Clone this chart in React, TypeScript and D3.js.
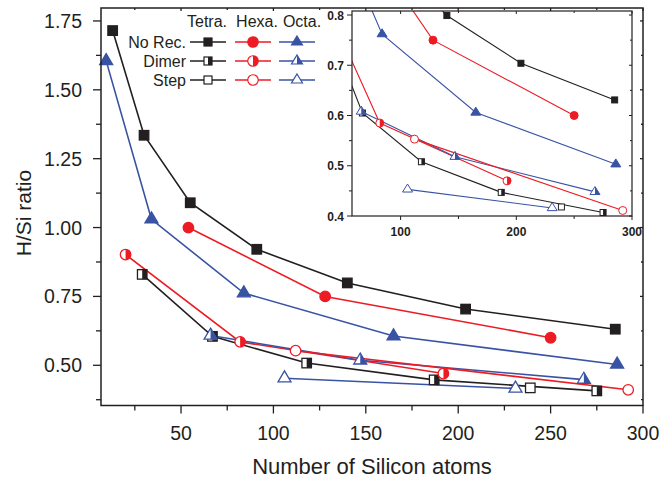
import React, { useEffect, useRef } from 'react';
import * as d3 from 'd3';

// [number of Si atoms, H/Si ratio]
const tetraNoRec = [[13, 1.715], [30, 1.335], [55, 1.09], [91, 0.921], [140, 0.799], [204, 0.704], [285, 0.631]];
const hexaNoRec = [[54, 1.0], [128, 0.75], [250, 0.6]];
const octaNoRec = [[9.5, 1.605], [34, 1.03], [84, 0.762], [165, 0.606], [286, 0.503]];
const tetraDimer = [[29, 0.83], [67, 0.605], [118, 0.508], [187, 0.447], [275, 0.407]];
const hexaDimer = [[20, 0.902], [82, 0.585], [192, 0.47]];
const octaDimer = [[66, 0.608], [147, 0.518], [268, 0.448]];
const tetraStep = [[239, 0.418]];
const hexaStep = [[112, 0.553], [292, 0.411]];
const octaStep = [[106, 0.453], [231, 0.416]];

const structures = ['Tetra.', 'Hexa.', 'Octa.'];
const terminations = ['No Rec.', 'Dimer', 'Step'];

const xMajor = [50, 100, 150, 200, 250, 300];
const xMinor = [25, 75, 125, 175, 225, 275];
const yMajor = [0.5, 0.75, 1.0, 1.25, 1.5, 1.75];
const yMinor = [0.375, 0.625, 0.875, 1.125, 1.375, 1.625];
const insetXMajor = [100, 200, 300];
const insetXMinor = [150, 250];
const insetYMajor = [0.4, 0.5, 0.6, 0.7, 0.8];
const insetYMinor = [0.45, 0.55, 0.65, 0.75];

const BLACK = '#231f20';
const RED = '#ed1c24';
const BLUE = '#3953a4';
const FONT = '"Liberation Sans", Arial, Helvetica, sans-serif';

const colors = [BLACK, RED, BLUE];
const shapes = ['square', 'circle', 'triangle'];
const fills = ['full', 'half', 'open'];

const series = [
  { data: tetraNoRec, s: 0, t: 0 },
  { data: hexaNoRec, s: 1, t: 0 },
  { data: octaNoRec, s: 2, t: 0 },
  { data: tetraDimer, s: 0, t: 1 },
  { data: hexaDimer, s: 1, t: 1 },
  { data: octaDimer, s: 2, t: 1 },
  { data: tetraStep, s: 0, t: 2 },
  { data: hexaStep, s: 1, t: 2 },
  { data: octaStep, s: 2, t: 2 },
];

// size: [square side, circle diameter, triangle width, triangle height]
function marker(g, shape, fill, x, y, size, color, sw) {
  const m = g.append('g').attr('transform', `translate(${x},${y})`);
  const bg = fill === 'full' ? color : 'white';
  if (shape === 'square') {
    const s = size[0];
    m.append('rect').attr('x', -s / 2).attr('y', -s / 2).attr('width', s).attr('height', s)
      .attr('fill', bg).attr('stroke', color).attr('stroke-width', sw);
    if (fill === 'half') {
      m.append('rect').attr('x', 0).attr('y', -s / 2).attr('width', s / 2).attr('height', s).attr('fill', color);
    }
  } else if (shape === 'circle') {
    const r = size[1] / 2;
    m.append('circle').attr('r', r).attr('fill', bg).attr('stroke', color).attr('stroke-width', sw);
    if (fill === 'half') {
      m.append('path').attr('d', `M0,${-r}A${r},${r} 0 0 1 0,${r}Z`).attr('fill', color);
    }
  } else {
    const w = size[2], h = size[3];
    m.append('polygon').attr('points', `0,${-2 * h / 3} ${w / 2},${h / 3} ${-w / 2},${h / 3}`)
      .attr('fill', bg).attr('stroke', color).attr('stroke-width', sw).attr('stroke-linejoin', 'miter');
    if (fill === 'half') {
      m.append('polygon').attr('points', `0,${-2 * h / 3} ${w / 2},${h / 3} 0,${h / 3}`).attr('fill', color);
    }
  }
}

const App = () => {
  const ref = useRef(null);

  useEffect(() => {
    const svg = d3.select(ref.current);
    svg.selectAll('*').remove();

    // main panel
    const x = d3.scaleLinear().domain([6.7, 300]).range([101, 643]);
    const y = d3.scaleLinear().domain([0.354, 1.797]).range([405.5, 8]);
    const [x0, x1] = x.range();
    const [y0, y1] = y.range();

    const axes = svg.append('g').attr('stroke', BLACK).attr('stroke-width', 1.3);
    // outward ticks bottom / left, small inward ticks top / right
    xMajor.forEach(v => {
      axes.append('line').attr('x1', x(v)).attr('x2', x(v)).attr('y1', y0).attr('y2', y0 + 8);
      axes.append('line').attr('x1', x(v)).attr('x2', x(v)).attr('y1', y1).attr('y2', y1 + 3);
    });
    xMinor.forEach(v => {
      axes.append('line').attr('x1', x(v)).attr('x2', x(v)).attr('y1', y0).attr('y2', y0 + 5);
      axes.append('line').attr('x1', x(v)).attr('x2', x(v)).attr('y1', y1).attr('y2', y1 + 2);
    });
    yMajor.forEach(v => {
      axes.append('line').attr('x1', x0 - 8).attr('x2', x0).attr('y1', y(v)).attr('y2', y(v));
      axes.append('line').attr('x1', x1 - 3).attr('x2', x1).attr('y1', y(v)).attr('y2', y(v));
    });
    yMinor.forEach(v => {
      axes.append('line').attr('x1', x0 - 5).attr('x2', x0).attr('y1', y(v)).attr('y2', y(v));
      axes.append('line').attr('x1', x1 - 2).attr('x2', x1).attr('y1', y(v)).attr('y2', y(v));
    });

    svg.selectAll('.xl').data(xMajor).enter().append('text')
      .attr('x', d => x(d)).attr('y', 440).attr('text-anchor', 'middle')
      .attr('font-family', FONT).attr('font-size', 19.5).attr('fill', BLACK)
      .text(d => d);
    svg.selectAll('.yl').data(yMajor).enter().append('text')
      .attr('x', 82).attr('y', d => y(d) + 7).attr('text-anchor', 'end')
      .attr('font-family', FONT).attr('font-size', 19.5).attr('fill', BLACK)
      .text(d => d3.format('.2f')(d));

    svg.append('text').attr('x', 372).attr('y', 474).attr('text-anchor', 'middle')
      .attr('font-family', FONT).attr('font-size', 22).attr('fill', BLACK)
      .text('Number of Silicon atoms');
    svg.append('text').attr('transform', 'translate(31,213) rotate(-90)').attr('text-anchor', 'middle')
      .attr('font-family', FONT).attr('font-size', 21).attr('fill', BLACK)
      .text('H/Si ratio');

    const line = d3.line().x(d => x(d[0])).y(d => y(d[1]));
    const plot = svg.append('g');
    series.forEach(sr => {
      plot.append('path').attr('d', line(sr.data)).attr('fill', 'none')
        .attr('stroke', colors[sr.s]).attr('stroke-width', 1.6);
    });
    series.forEach(sr => {
      sr.data.forEach(d => marker(plot, shapes[sr.s], fills[sr.t], x(d[0]), y(d[1]), [9.5, 10.5, 13, 11], colors[sr.s], 1.3));
    });

    svg.append('rect').attr('x', x0).attr('y', y1).attr('width', x1 - x0).attr('height', y0 - y1)
      .attr('fill', 'none').attr('stroke', BLACK).attr('stroke-width', 1.5);

    // legend
    const colX = [208, 253, 297];
    const headX = [207, 257, 302];
    structures.forEach((s, i) => {
      svg.append('text').attr('x', headX[i]).attr('y', 27).attr('text-anchor', 'middle')
        .attr('font-family', FONT).attr('font-size', 16).attr('fill', BLACK).text(s);
    });
    terminations.forEach((t, j) => {
      const ly = 42 + j * 19;
      svg.append('text').attr('x', 186).attr('y', ly + 6).attr('text-anchor', 'end')
        .attr('font-family', FONT).attr('font-size', 16).attr('fill', BLACK).text(t);
      colX.forEach((cx, i) => {
        svg.append('line').attr('x1', cx - 18).attr('x2', cx + 18).attr('y1', ly).attr('y2', ly)
          .attr('stroke', colors[i]).attr('stroke-width', 1.5);
        marker(svg, shapes[i], fills[j], cx, ly, [8, 10.5, 11, 9], colors[i], 1.2);
      });
    });

    // inset
    const ix = d3.scaleLinear().domain([58, 300]).range([352, 632]);
    const iy = d3.scaleLinear().domain([0.4, 0.808]).range([216, 11]);
    const [ix0, ix1] = ix.range();
    const [iy0, iy1] = iy.range();
    const inset = svg.append('g');
    inset.append('rect').attr('x', ix0).attr('y', iy1).attr('width', ix1 - ix0).attr('height', iy0 - iy1)
      .attr('fill', 'white');
    svg.append('clipPath').attr('id', 'insetClip').append('rect')
      .attr('x', ix0).attr('y', iy1).attr('width', ix1 - ix0).attr('height', iy0 - iy1);

    const ia = inset.append('g').attr('stroke', BLACK).attr('stroke-width', 1);
    insetXMajor.forEach(v => {
      ia.append('line').attr('x1', ix(v)).attr('x2', ix(v)).attr('y1', iy0).attr('y2', iy0 + 4);
      ia.append('line').attr('x1', ix(v)).attr('x2', ix(v)).attr('y1', iy1).attr('y2', iy1 + 3);
    });
    insetXMinor.forEach(v => {
      ia.append('line').attr('x1', ix(v)).attr('x2', ix(v)).attr('y1', iy0).attr('y2', iy0 + 3);
      ia.append('line').attr('x1', ix(v)).attr('x2', ix(v)).attr('y1', iy1).attr('y2', iy1 + 2);
    });
    insetYMajor.forEach(v => {
      ia.append('line').attr('x1', ix0 - 5).attr('x2', ix0).attr('y1', iy(v)).attr('y2', iy(v));
      ia.append('line').attr('x1', ix1 - 3).attr('x2', ix1).attr('y1', iy(v)).attr('y2', iy(v));
    });
    insetYMinor.forEach(v => {
      ia.append('line').attr('x1', ix0 - 3).attr('x2', ix0).attr('y1', iy(v)).attr('y2', iy(v));
      ia.append('line').attr('x1', ix1 - 2).attr('x2', ix1).attr('y1', iy(v)).attr('y2', iy(v));
    });
    inset.selectAll('.ixl').data(insetXMajor).enter().append('text')
      .attr('x', d => ix(d)).attr('y', 236).attr('text-anchor', 'middle')
      .attr('font-family', FONT).attr('font-size', 12).attr('font-weight', 'bold').attr('fill', BLACK)
      .text(d => d);
    inset.selectAll('.iyl').data(insetYMajor).enter().append('text')
      .attr('x', 344).attr('y', d => iy(d) + 4.5).attr('text-anchor', 'end')
      .attr('font-family', FONT).attr('font-size', 12).attr('font-weight', 'bold').attr('fill', BLACK)
      .text(d => d3.format('.1f')(d));

    const iline = d3.line().x(d => ix(d[0])).y(d => iy(d[1]));
    const iplot = inset.append('g').attr('clip-path', 'url(#insetClip)');
    series.forEach(sr => {
      iplot.append('path').attr('d', iline(sr.data)).attr('fill', 'none')
        .attr('stroke', colors[sr.s]).attr('stroke-width', 1.1);
    });
    series.forEach(sr => {
      sr.data.forEach(d => marker(iplot, shapes[sr.s], fills[sr.t], ix(d[0]), iy(d[1]), [6, 8, 10, 8], colors[sr.s], 1));
    });
    inset.append('rect').attr('x', ix0).attr('y', iy1).attr('width', ix1 - ix0).attr('height', iy0 - iy1)
      .attr('fill', 'none').attr('stroke', BLACK).attr('stroke-width', 1.2);
  }, []);

  return (
    <svg ref={ref} width={660} height={480} style={{ position: 'absolute', left: 0, top: 0, background: 'white' }} />
  );
};

export default App;
